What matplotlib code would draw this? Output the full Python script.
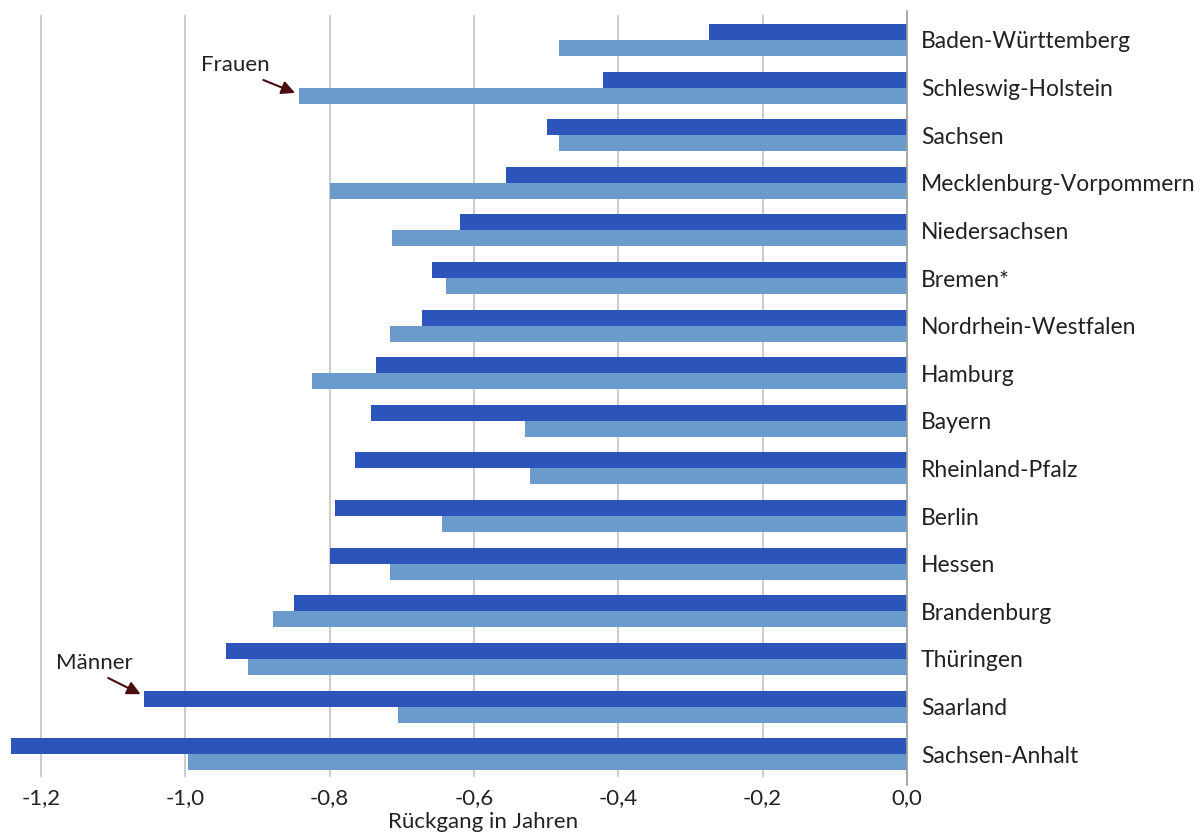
import matplotlib
matplotlib.use("Agg")
import matplotlib.pyplot as plt
import numpy as np
from matplotlib.ticker import FuncFormatter

laender = ["Baden-Württemberg", "Schleswig-Holstein", "Sachsen", "Mecklenburg-Vorpommern",
           "Niedersachsen", "Bremen*", "Nordrhein-Westfalen", "Hamburg", "Bayern",
           "Rheinland-Pfalz", "Berlin", "Hessen", "Brandenburg", "Thüringen",
           "Saarland", "Sachsen-Anhalt"]
maenner = [-0.274, -0.421, -0.499, -0.555, -0.620, -0.658, -0.672, -0.736, -0.743,
           -0.765, -0.793, -0.800, -0.849, -0.943, -1.057, -1.241]
frauen = [-0.482, -0.842, -0.482, -0.800, -0.714, -0.639, -0.717, -0.824, -0.530,
          -0.523, -0.644, -0.717, -0.879, -0.913, -0.705, -0.997]
xticks = [-1.2, -1.0, -0.8, -0.6, -0.4, -0.2, 0.0]

plt.rcParams['font.family'] = ['Lato', 'DejaVu Sans']

W, H = 1200, 836
fig = plt.figure(figsize=(W / 100, H / 100), dpi=100)
ax = fig.add_axes([10 / W, 1 - 777 / H, (907 - 10) / W, (777 - 15) / H])

y = np.arange(len(laender))
h = 0.336
dark = "#2c54bb"
light = "#6a9bcb"
ax.barh(y - h / 2, maenner, height=h, color=dark, zorder=3)
ax.barh(y + h / 2, frauen, height=h, color=light, zorder=3)

ax.set_xlim(-1.243, 0)
ax.set_ylim(15.48, -0.525)
ax.set_xticks(xticks)
ax.xaxis.set_major_formatter(FuncFormatter(lambda v, p: f"{v:.1f}".replace(".", ",").replace("-0,0", "0,0")))
ax.tick_params(axis='x', length=0, pad=8, labelsize=16, labelcolor="#222222")
for xt in xticks[:-1]:
    ax.axvline(xt, color="#c4c4c4", lw=1.2, zorder=1)
ax.axvline(0, color="#9a9a9a", lw=1.2, zorder=4, ymin=-0.01, ymax=1.005, clip_on=False)

ax.set_yticks(y)
ax.set_yticklabels(laender)
ax.yaxis.tick_right()
ax.tick_params(axis='y', length=0, pad=10, labelsize=16.5, labelcolor="#222222")
for s in ax.spines.values():
    s.set_visible(False)

ax.set_xlabel("Rückgang in Jahren", fontsize=16, color="#222222")
ax.xaxis.set_label_coords((483 - 10) / (907 - 10), -0.046)

arrow_c = "#4a0c0c"
arrow_kw = dict(arrowstyle="-|>", color=arrow_c, lw=1.5, mutation_scale=20, shrinkA=0, shrinkB=0)
ax.text(-0.883, 0.52, "Frauen", fontsize=16, color="#222222", ha="right", va="center")
ax.annotate("", xy=(-0.848, 1.11), xytext=(-0.892, 0.84), arrowprops=arrow_kw)
ax.text(-1.073, 13.09, "Männer", fontsize=16, color="#222222", ha="right", va="center")
ax.annotate("", xy=(-1.062, 13.74), xytext=(-1.107, 13.4), arrowprops=arrow_kw)

fig.savefig("out.png", dpi=100)
